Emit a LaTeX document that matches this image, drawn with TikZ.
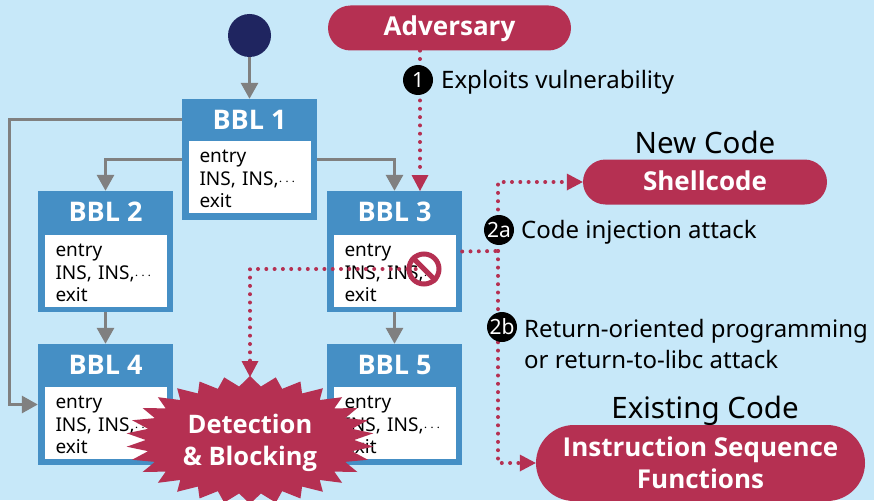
\documentclass[tikz,border=0pt]{standalone}
\usepackage{amsmath}
\usepackage{amssymb}
\usepackage{fontspec}
\setmainfont{Noto Sans}
\newfontfamily\heavy{Open Sans}
\usepackage{tikz}
\usetikzlibrary{arrows.meta,shapes.misc}

\definecolor{skybg}{HTML}{C7E8F9}
\definecolor{crimson}{HTML}{B53052}
\definecolor{bblblue}{HTML}{458FC5}
\definecolor{navy}{HTML}{1F2560}
\definecolor{flowgray}{HTML}{808080}

\newcommand{\fsize}[1]{\fontsize{#1}{#1}\selectfont}

\tikzset{
    bbl/.style={fill=bblblue, minimum width=135pt, minimum height=121pt, inner sep=0pt},
    bbltitle/.style={text=white, font=\fsize{27}\heavy\bfseries, inner sep=0pt},
    bblbody/.style={fill=white, minimum height=72pt, text width=100pt, inner xsep=11pt, inner ysep=0pt, align=left, font=\fontsize{19}{22.5}\selectfont},
    flow/.style={-{Triangle[width=17pt, length=16pt]}, draw=flowgray, line width=3pt},
    attack/.style={draw=crimson, line width=4pt, line cap=round, dash pattern=on 0pt off 8.3pt},
    attacktip/.style={attack, -{Triangle[width=17pt, length=16pt, fill=crimson, line width=0pt]}},
    pill/.style={rounded rectangle, fill=crimson, text=white, inner sep=0pt, align=center, font=\fontsize{26}{32}\heavy\bfseries},
    stepmark/.style={circle, fill=black, text=white, minimum size=30pt, inner sep=0pt, font=\fsize{21}},
    steptext/.style={anchor=west, inner sep=0pt, align=left, font=\fontsize{24}{31}\selectfont},
    codetitle/.style={inner sep=0pt, font=\fsize{29.5}}
}

\begin{document}
\begin{tikzpicture}[x=1pt, y=-1pt]
    \useasboundingbox (0, 0) rectangle (874, 500);
    \fill[skybg] (0, 0) rectangle (874, 500);
    \clip (0, 0) rectangle (874, 500);

    \node[circle, fill=navy, minimum size=43pt, inner sep=0pt] (start) at (249.5, 35.5) {};
    \node[pill, minimum width=243pt, minimum height=45pt, text height=20pt, text depth=4pt] (adversary) at (449.5, 28) {Adversary};
    \node[pill, minimum width=244pt, minimum height=45pt, text height=20pt, text depth=4pt] (shellcode) at (705, 182) {Shellcode};
    \node[pill, minimum width=329pt, minimum height=76pt] (existing) at (700.5, 463) {Instruction Sequence\\Functions};

    \node[codetitle] (newcode) at (705, 142) {New Code};
    \node[codetitle] (oldcode) at (705, 411) {Existing Code};

    \foreach \n/\x/\y/\b in {1/249.5/159.5/177, 2/105.5/251.5/271, 3/394.5/251.5/271, 4/105.5/404.5/423, 5/394.5/404.5/423} {
        \node[bbl] (bbl\n) at (\x, \y) {};
        \node[bbltitle] (title\n) at (\x, \y-40) {BBL \n};
        \node[bblbody] (body\n) at (\x, \b) {\rule{0pt}{17pt}entry\\INS, INS,{\fsize{14}$\cdots$}\\exit};
    }

    \coordinate (corner1) at (9, 119);
    \draw[flow] ([yshift=40.5pt]bbl1.west) -- (corner1) |- (bbl4.west);
    \draw[flow] (bbl1.west) -| (bbl2.north);
    \draw[flow] (bbl1.east) -| (bbl3.north);
    \draw[flow] (start) -- (bbl1.north);
    \draw[flow] (bbl2) -- (bbl4);
    \draw[flow] (bbl3) -- (bbl5);

    \fill[crimson] plot[samples=61, domain=0:360] ({250 + 124*(mod(round(\x/6), 2) == 1 ? 1 : 0.84)*cos(\x)}, {440 + 64*(mod(round(\x/6), 2) == 1 ? 1 : 0.84)*sin(\x)}) -- cycle;
    \node[text=white, align=center, inner sep=0pt, font=\fontsize{25.5}{32}\heavy\bfseries] (detect) at (250, 443) {Detection\\\& Blocking};
    \coordinate (bursttop) at (250, 377);
    \coordinate (split) at (498, 251);
    \coordinate (blocked) at (424, 269);
    \coordinate (hit3) at (420, 191);

    \draw[attacktip] (adversary.south -| hit3) -- (hit3);
    \draw[attack] (bbl3.east) -- (split);
    \draw[attacktip] (split) |- (shellcode.west);
    \draw[attacktip] (split) |- (existing.west);
    \draw[attacktip] (blocked) -| (bursttop);

    \node[circle, draw=crimson, line width=5pt, minimum size=30pt, inner sep=0pt] (nosign) at (blocked) {};
    \draw[crimson, line width=5pt] (nosign.north west) -- (nosign.south east);

    \node[stepmark] (mark1) at (418, 80) {\textbf{1}};
    \node[stepmark] (mark2a) at (499, 230) {2a};
    \node[stepmark] (mark2b) at (502, 327) {2b};
    \node[steptext] (text1) at (441, 82) {Exploits vulnerability};
    \node[steptext] (text2a) at (521, 232) {Code injection attack};
    \node[steptext] (text2b) at (524, 344) {Return-oriented programming\\or return-to-libc attack};
\end{tikzpicture}
\end{document}
